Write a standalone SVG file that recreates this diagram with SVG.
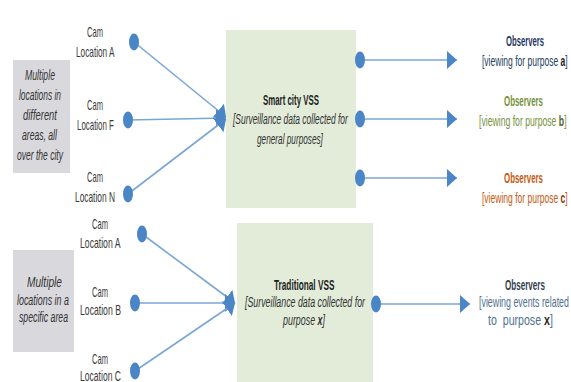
<svg xmlns="http://www.w3.org/2000/svg" width="571" height="382" viewBox="0 0 571 382">
<style>
text{font-family:"Liberation Sans",Arial,sans-serif;font-size:14px;fill:#3a3a3a}
.it{font-style:italic;fill:#333333}
.b{font-weight:bold}
.gray{fill:#d9d9dd}
.green{fill:#e2ecd9}
.dot{fill:#4a86c5}
.ln{stroke:#7aa6d6;stroke-width:1.6;fill:none}
.navy{fill:#243f60}
.olive{fill:#76923c}
.orange{fill:#c55a11}
.slate{fill:#51708f}
.title{font-weight:bold;fill:#1e1e1e}
</style>
<defs>
<marker id="ah" viewBox="0 0 10 18" refX="10" refY="9" markerUnits="userSpaceOnUse" markerWidth="10" markerHeight="18" orient="auto">
<path d="M0,0 L10,9 L0,18 Z" fill="#4a86c5"/>
</marker>
</defs>
<rect width="571" height="382" fill="#ffffff"/>

<g id="area-top">
<rect class="gray" x="13" y="60" width="57" height="113"/>
<text class="it" transform="translate(25,80) scale(0.622,1)">Multiple</text>
<text class="it" transform="translate(19,100) scale(0.6,1)">locations in</text>
<text class="it" transform="translate(23,120) scale(0.672,1)">different</text>
<text class="it" transform="translate(22,140) scale(0.616,1)">areas, all</text>
<text class="it" transform="translate(17,160) scale(0.609,1)">over the city</text>
</g>
<g id="area-bottom">
<rect class="gray" x="13" y="250" width="61" height="102"/>
<text class="it" transform="translate(27,287) scale(0.726,1)">Multiple</text>
<text class="it" transform="translate(17,305) scale(0.636,1)">locations in a</text>
<text class="it" transform="translate(19,322) scale(0.624,1)">specific area</text>
</g>

<g id="connectors">
<line class="ln" x1="134" y1="42" x2="226" y2="117" marker-end="url(#ah)"/>
<line class="ln" x1="128" y1="120" x2="226" y2="118" marker-end="url(#ah)"/>
<line class="ln" x1="128" y1="194" x2="226" y2="119" marker-end="url(#ah)"/>
<line class="ln" x1="360" y1="60" x2="457" y2="60" marker-end="url(#ah)"/>
<line class="ln" x1="360" y1="119" x2="457" y2="119" marker-end="url(#ah)"/>
<line class="ln" x1="360" y1="178" x2="457" y2="178" marker-end="url(#ah)"/>
<line class="ln" x1="142" y1="234" x2="235" y2="303" marker-end="url(#ah)"/>
<line class="ln" x1="135" y1="303" x2="235" y2="303" marker-end="url(#ah)"/>
<line class="ln" x1="135" y1="371" x2="235" y2="303" marker-end="url(#ah)"/>
<line class="ln" x1="376" y1="304" x2="470" y2="304" marker-end="url(#ah)"/>
</g>

<g id="cam-top-a">
<ellipse class="dot" cx="134" cy="42" rx="5" ry="8.5"/>
<text transform="translate(87,37) scale(0.541,1)">Cam</text>
<text transform="translate(76,57) scale(0.59,1)">Location A</text>
</g>
<g id="cam-top-f">
<ellipse class="dot" cx="128" cy="120" rx="5" ry="8.5"/>
<text transform="translate(87,110) scale(0.541,1)">Cam</text>
<text transform="translate(77,130) scale(0.566,1)">Location F</text>
</g>
<g id="cam-top-n">
<ellipse class="dot" cx="128" cy="194" rx="5" ry="8.5"/>
<text transform="translate(87,182) scale(0.541,1)">Cam</text>
<text transform="translate(75,202) scale(0.598,1)">Location N</text>
</g>

<g id="smart-vss">
<rect class="green" x="226" y="30" width="130" height="178"/>
<text class="title" transform="translate(263,105) scale(0.562,1)">Smart city VSS</text>
<text class="it" transform="translate(233,124) scale(0.603,1)">[Surveillance data collected for</text>
<text class="it" transform="translate(257,144) scale(0.589,1)">general purposes]</text>
<ellipse class="dot" cx="360" cy="60" rx="5" ry="8.5"/>
<ellipse class="dot" cx="360" cy="119" rx="5" ry="8.5"/>
<ellipse class="dot" cx="360" cy="178" rx="5" ry="8.5"/>
</g>

<g id="obs-a">
<text class="b" transform="translate(506,46) scale(0.549,1)" style="fill:#1f3864">Observers</text>
<text class="navy" transform="translate(482,66) scale(0.609,1)">[viewing for purpose <tspan class="b" style="fill:#1a1a1a">a</tspan>]</text>
</g>
<g id="obs-b">
<text class="b" transform="translate(504,106) scale(0.563,1)" style="fill:#76923c">Observers</text>
<text class="olive" transform="translate(479,126) scale(0.619,1)">[viewing for purpose <tspan class="b" style="fill:#4f6228">b</tspan>]</text>
</g>
<g id="obs-c">
<text class="b" transform="translate(504,183) scale(0.563,1)" style="fill:#c55a11">Observers</text>
<text class="orange" transform="translate(482,203) scale(0.609,1)">[viewing for purpose <tspan class="b" style="fill:#843c0c">c</tspan>]</text>
</g>

<g id="cam-bot-a">
<ellipse class="dot" cx="142" cy="234" rx="5" ry="8.5"/>
<text transform="translate(92,229) scale(0.541,1)">Cam</text>
<text transform="translate(80,248) scale(0.62,1)">Location A</text>
</g>
<g id="cam-bot-b">
<ellipse class="dot" cx="135" cy="303" rx="5" ry="8.5"/>
<text transform="translate(92,297) scale(0.541,1)">Cam</text>
<text transform="translate(80,315) scale(0.62,1)">Location B</text>
</g>
<g id="cam-bot-c">
<ellipse class="dot" cx="135" cy="371" rx="5" ry="8.5"/>
<text transform="translate(92,364) scale(0.541,1)">Cam</text>
<text transform="translate(80,381) scale(0.613,1)">Location C</text>
</g>

<g id="traditional-vss">
<rect class="green" x="237" y="223" width="136" height="159"/>
<text class="title" transform="translate(274,290) scale(0.589,1)">Traditional VSS</text>
<text class="it" transform="translate(245,307) scale(0.63,1)">[Surveillance data collected for</text>
<text class="it" transform="translate(283,325) scale(0.635,1)">purpose <tspan class="b">x</tspan>]</text>
<ellipse class="dot" cx="376" cy="304" rx="5" ry="8.5"/>
</g>

<g id="obs-x">
<text class="b" transform="translate(505,290) scale(0.578,1)" style="fill:#333f4f">Observers</text>
<text class="slate" transform="translate(479,307) scale(0.632,1)">[viewing events related</text>
<text class="slate" transform="translate(488,325) scale(0.759,1)" xml:space="preserve">to  purpose <tspan class="b" style="fill:#262626">x</tspan>]</text>
</g>
</svg>
